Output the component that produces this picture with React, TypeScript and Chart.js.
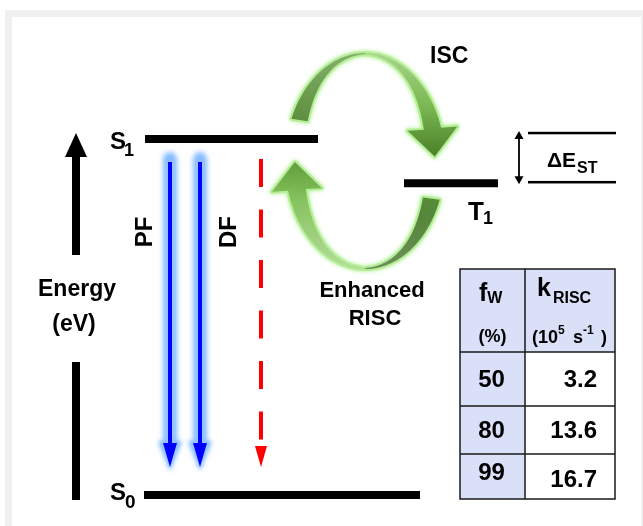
import React, { useEffect, useRef } from 'react';
import { Chart, registerables } from 'chart.js';

Chart.register(...registerables);

// ---------- data ----------
// energy levels (arbitrary units, S0 = 0, S1 = 1)
const levelNames = ['S0', 'S1', 'T1'];
const levelEnergies = [0, 1.0, 0.876];
// horizontal extent of every level on the diagram's position axis
const levelFrom = [144, 145, 404];
const levelTo = [420, 318, 498];

// radiative channels S1 -> S0 (position on the diagram axis)
const transitionNames = ['PF', 'DF', 'TADF'];
const transitionX = [170, 200, 261];

// table values
const tableHeaders = ['f', 'k'];
const fwValues = [50, 80, 99];
const kRiscValues = [3.2, 13.6, 16.7];

// ---------- helpers ----------
const FONT = '"Liberation Sans", Arial, Helvetica, sans-serif';
const F = (s: number) => `bold ${s}px ${FONT}`;

function subText(ctx: CanvasRenderingContext2D, main: string, sub: string, x: number, y: number, ms: number, ss: number, dy: number, gap = 0) {
  ctx.textAlign = 'left';
  ctx.textBaseline = 'alphabetic';
  ctx.font = F(ms);
  ctx.fillText(main, x, y);
  const w = ctx.measureText(main).width;
  ctx.font = F(ss);
  ctx.fillText(sub, x + w + gap, y + dy);
}

function ribbon(ctx: CanvasRenderingContext2D, cx: number, cy: number, a: number, b: number, wmin: number, wmax: number, t0: number, t1: number, headHalf: number, headLen: number) {
  const rad = (d: number) => (d * Math.PI) / 180;
  const outer: number[][] = [];
  const inner: number[][] = [];
  const n = 80;
  for (let i = 0; i <= n; i++) {
    const t = rad(t0 + ((t1 - t0) * i) / n);
    const s = Math.sin(t), c = Math.cos(t);
    const ww = wmin + (wmax - wmin) * Math.abs(s);
    outer.push([cx + a * s, cy - b * c]);
    inner.push([cx + (a - ww) * s, cy - (b - ww * 0.35) * c]);
  }
  const t = rad(t1);
  const s = Math.sin(t), c = Math.cos(t);
  const ww = wmin + (wmax - wmin) * Math.abs(s);
  const mx = cx + (a - ww / 2) * s;
  const my = cy - (b - ww * 0.17) * c;
  let dx = a * c * 0.35, dy = b * s;
  const L = Math.hypot(dx, dy);
  dx /= L; dy /= L;
  const ox = dy, oy = -dx;
  ctx.beginPath();
  ctx.moveTo(outer[0][0], outer[0][1]);
  for (const p of outer) ctx.lineTo(p[0], p[1]);
  ctx.lineTo(mx + ox * headHalf, my + oy * headHalf);
  ctx.lineTo(mx + dx * headLen, my + dy * headLen);
  ctx.lineTo(mx - ox * headHalf, my - oy * headHalf);
  for (let i = inner.length - 1; i >= 0; i--) ctx.lineTo(inner[i][0], inner[i][1]);
  ctx.closePath();
}

function greenArrow(ctx: CanvasRenderingContext2D, cx: number, cy: number, t0: number, t1: number, leftStops: [number, string][], rightStops: [number, string][], y0: number, y1: number) {
  const a = 80, b = 108;
  ctx.save();
  ribbon(ctx, cx, cy, a, b, 3, 19, t0, t1, 25, 28);
  ctx.shadowColor = 'rgba(150,235,110,0.8)';
  ctx.shadowBlur = 4;
  ctx.strokeStyle = 'rgba(180,238,150,1)';
  ctx.lineWidth = 4;
  ctx.lineJoin = 'round';
  ctx.stroke();
  ctx.restore();

  ctx.save();
  ribbon(ctx, cx, cy, a, b, 3, 19, t0, t1, 25, 28);
  ctx.clip();
  const gl = ctx.createLinearGradient(0, y0, 0, y1);
  leftStops.forEach(([o, col]) => gl.addColorStop(o, col));
  ctx.fillStyle = gl;
  ctx.fillRect(cx - 200, y0 - 50, 200, y1 - y0 + 100);
  const gr = ctx.createLinearGradient(0, y0, 0, y1);
  rightStops.forEach(([o, col]) => gr.addColorStop(o, col));
  ctx.fillStyle = gr;
  ctx.fillRect(cx, y0 - 50, 200, y1 - y0 + 100);
  ctx.restore();
}

function downArrow(ctx: CanvasRenderingContext2D, x: number, y0: number, y1: number, lw: number, headHalf: number, headLen: number, color: string) {
  ctx.beginPath();
  ctx.moveTo(x, y0);
  ctx.lineTo(x, y1 - headLen + 1);
  ctx.strokeStyle = color;
  ctx.lineWidth = lw;
  ctx.stroke();
  ctx.setLineDash([]);
  ctx.beginPath();
  ctx.moveTo(x - headHalf, y1 - headLen);
  ctx.lineTo(x + headHalf, y1 - headLen);
  ctx.lineTo(x, y1);
  ctx.closePath();
  ctx.fillStyle = color;
  ctx.fill();
}

const diagramPlugin = {
  id: 'diagram',
  beforeDraw(chart: any) {
    const { ctx, width, height } = chart;
    ctx.save();
    ctx.fillStyle = '#ffffff';
    ctx.fillRect(0, 0, width, height);
    ctx.fillStyle = '#f0f0f0';
    ctx.fillRect(5, 10, width - 5, height - 10);
    ctx.fillStyle = '#ffffff';
    ctx.fillRect(12, 17, width - 14, height - 17);
    ctx.restore();
  },
  afterDatasetsDraw(chart: any) {
    const ctx: CanvasRenderingContext2D = chart.ctx;
    const xs = chart.scales.x, ys = chart.scales.y;
    const px = (v: number) => xs.getPixelForValue(v);
    const py = (v: number) => ys.getPixelForValue(v);
    const yS0 = py(levelEnergies[0]);
    const yS1 = py(levelEnergies[1]);
    const yT1 = py(levelEnergies[2]);
    ctx.save();
    ctx.fillStyle = '#000';

    // ---- level labels ----
    subText(ctx, 'S', '1', px(levelFrom[1]) - 35, yS1 + 10, 24, 18, 7, -2);
    subText(ctx, 'S', '0', px(levelFrom[0]) - 34, yS0 + 5, 24, 19, 8, -1);
    subText(ctx, 'T', '1', px(levelTo[2]) - 30, yT1 + 37, 26, 18, 4, -1);

    // ---- energy axis arrow ----
    const ex = 76;
    const tipY = yS1 - 6;
    ctx.beginPath();
    ctx.moveTo(ex, tipY);
    ctx.lineTo(ex + 11, tipY + 24);
    ctx.lineTo(ex - 11, tipY + 24);
    ctx.closePath();
    ctx.fill();
    ctx.fillRect(ex - 4, tipY + 23, 8, 99);
    ctx.fillRect(ex - 4, 362, 8, yS0 + 5 - 362);
    ctx.font = F(23);
    ctx.textAlign = 'center';
    ctx.textBaseline = 'alphabetic';
    ctx.fillText('Energy', ex + 1, 296);
    ctx.fillText('(eV)', ex - 2, 331);

    // ---- radiative transitions ----
    const tip = yS0 - 28;
    for (let i = 0; i < 2; i++) {
      const x = px(transitionX[i]);
      ctx.save();
      ctx.filter = 'blur(2.5px)';
      ctx.lineCap = 'round';
      downArrow(ctx, x, yS1 + 20, tip + 4, 14, 12, 30, 'rgba(110,175,255,0.85)');
      ctx.restore();
      ctx.save();
      ctx.filter = 'blur(1px)';
      downArrow(ctx, x, yS1 + 22, tip + 2, 9, 10, 27, 'rgba(150,200,255,0.8)');
      ctx.restore();
      ctx.save();
      downArrow(ctx, x, yS1 + 23, tip, 4, 7, 24, '#0000ff');
      ctx.restore();
    }
    ctx.save();
    ctx.setLineDash([28, 22.5]);
    downArrow(ctx, px(transitionX[2]), yS1 + 20, tip, 4, 6, 21, '#ff0000');
    ctx.restore();

    // PF / DF labels (rotated)
    const labelX = [px(transitionX[0]) - 27, px(transitionX[1]) + 27];
    for (let i = 0; i < 2; i++) {
      ctx.save();
      ctx.translate(labelX[i], 232);
      ctx.rotate(-Math.PI / 2);
      ctx.font = F(24);
      ctx.textAlign = 'center';
      ctx.textBaseline = 'alphabetic';
      ctx.fillStyle = '#000';
      ctx.fillText(transitionNames[i], 0, 8.5);
      ctx.restore();
    }

    // ---- ISC / RISC curved arrows ----
    const cx = 365, cy = (yS1 + yT1) / 2;
    greenArrow(ctx, cx, cy, -67, 72,
      [[0, '#86b06c'], [0.45, '#68984a'], [1, '#4a7a2a']],
      [[0, '#a9d68e'], [0.5, '#7bb853'], [0.95, '#4b8028'], [1, '#447524']],
      cy - 110, cy);
    greenArrow(ctx, cx, cy, 111, 254,
      [[0, '#5f9e3a'], [0.35, '#86c25e'], [1, '#b6dd9c']],
      [[0, '#5a9638'], [0.5, '#55863a'], [1, '#6f8f5c']],
      cy, cy + 110);

    ctx.fillStyle = '#000';
    ctx.font = F(23);
    ctx.textAlign = 'left';
    ctx.fillText('ISC', 430, 63);
    ctx.textAlign = 'center';
    ctx.font = F(22);
    ctx.fillText('Enhanced', 372, 297);
    ctx.fillText('RISC', 375, 325);

    // ---- ΔEST ----
    const dTop = yS1 - 6, dBot = yT1 - 1;
    ctx.fillRect(528, dTop - 1.2, 88, 2.5);
    ctx.fillRect(528, dBot - 1.2, 88, 2.5);
    ctx.strokeStyle = '#000';
    ctx.lineWidth = 1.8;
    ctx.beginPath();
    ctx.moveTo(519, dTop + 2);
    ctx.lineTo(519, dBot - 2);
    ctx.stroke();
    ctx.beginPath();
    ctx.moveTo(519, dTop - 2); ctx.lineTo(523.5, dTop + 6); ctx.lineTo(514.5, dTop + 6); ctx.closePath();
    ctx.fill();
    ctx.beginPath();
    ctx.moveTo(519, dBot + 2); ctx.lineTo(523.5, dBot - 6); ctx.lineTo(514.5, dBot - 6); ctx.closePath();
    ctx.fill();
    subText(ctx, 'ΔE', 'ST', 547, 167, 21, 16, 6, 1);

    // ---- table ----
    const tx = [460, 525, 615];
    const ty = [269, 352, 406, 454, 499];
    ctx.fillStyle = '#dae0f7';
    ctx.fillRect(tx[0], ty[0], tx[2] - tx[0], ty[1] - ty[0]);
    ctx.fillRect(tx[0], ty[1], tx[1] - tx[0], ty[4] - ty[1]);
    ctx.strokeStyle = '#1a1a1a';
    ctx.lineWidth = 1.5;
    ctx.strokeRect(tx[0], ty[0], tx[2] - tx[0], ty[4] - ty[0]);
    ctx.beginPath();
    ctx.moveTo(tx[1], ty[0]); ctx.lineTo(tx[1], ty[4]);
    for (let r = 1; r < 4; r++) { ctx.moveTo(tx[0], ty[r]); ctx.lineTo(tx[2], ty[r]); }
    ctx.stroke();

    ctx.fillStyle = '#000';
    subText(ctx, tableHeaders[0], 'W', tx[0] + 19, 301, 25, 16, 2, 0);
    subText(ctx, tableHeaders[1], 'RISC', tx[1] + 12, 296, 25, 16, 7, 2);
    ctx.font = F(18);
    ctx.textAlign = 'center';
    ctx.fillText('(%)', (tx[0] + tx[1]) / 2, 342);
    ctx.textAlign = 'left';
    ctx.font = F(18); ctx.fillText('(10', tx[1] + 7, 343);
    ctx.font = F(12); ctx.fillText('5', tx[1] + 33, 334);
    ctx.font = F(18); ctx.fillText('s', tx[1] + 48, 343);
    ctx.font = F(12); ctx.fillText('-1', tx[1] + 58, 334);
    ctx.font = F(18); ctx.fillText(')', tx[1] + 76, 343);

    const base = [387, 438, 480];
    const baseK = [387, 438, 487];
    ctx.font = F(24);
    for (let r = 0; r < fwValues.length; r++) {
      ctx.textAlign = 'center';
      ctx.fillText(String(fwValues[r]), (tx[0] + tx[1]) / 2 - 1, base[r]);
      ctx.textAlign = 'right';
      ctx.fillText(kRiscValues[r].toFixed(1), tx[2] - 18, baseK[r]);
    }
    ctx.restore();
  },
};

export default function App() {
  const ref = useRef<HTMLCanvasElement>(null);
  useEffect(() => {
    if (!ref.current) return;
    const chart = new Chart(ref.current, {
      type: 'scatter',
      data: {
        datasets: levelNames.map((name, i) => ({
          label: name,
          data: [
            { x: levelFrom[i], y: levelEnergies[i] },
            { x: levelTo[i], y: levelEnergies[i] },
          ],
          showLine: true,
          borderColor: '#000000',
          backgroundColor: '#000000',
          borderWidth: 8,
          borderCapStyle: 'butt' as const,
          pointRadius: 0,
        })),
      },
      options: {
        animation: false,
        responsive: false,
        devicePixelRatio: window.devicePixelRatio || 1,
        events: [],
        layout: { padding: 0 },
        plugins: { legend: { display: false }, tooltip: { enabled: false } },
        scales: {
          x: { type: 'linear', min: 0, max: 643, display: false },
          y: { type: 'linear', min: -31 / 356, max: 495 / 356, display: false },
        },
      },
      plugins: [diagramPlugin],
    });
    return () => chart.destroy();
  }, []);
  return (
    <div style={{ position: 'fixed', left: 0, top: 0, width: 643, height: 526 }}>
      <canvas ref={ref} width={643} height={526} />
    </div>
  );
}
